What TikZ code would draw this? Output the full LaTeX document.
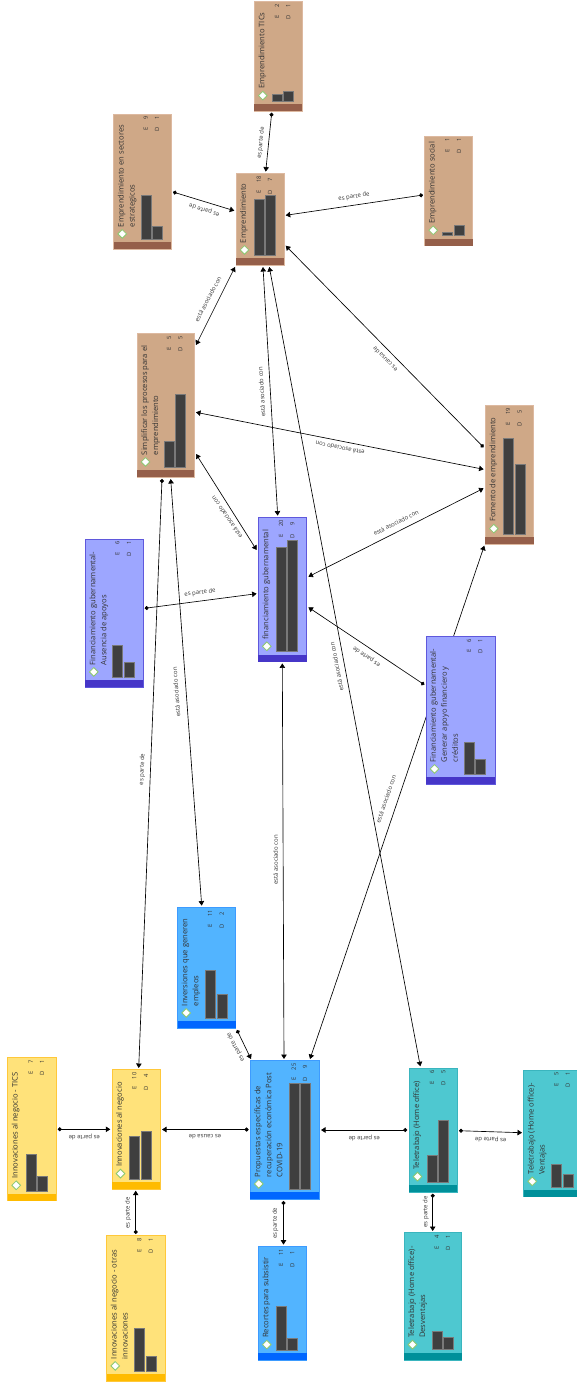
\documentclass[tikz,border=0pt]{standalone}
\usepackage{fontspec}
\setmainfont{Open Sans}
\usetikzlibrary{arrows.meta,shapes.geometric}
\pgfdeclarelayer{back}
\pgfsetlayers{back,main}
\definecolor{brF}{HTML}{CFA887}\definecolor{brB}{HTML}{955F4A}\definecolor{brL}{HTML}{DDB9A0}
\definecolor{liF}{HTML}{9DA6FF}\definecolor{liB}{HTML}{4636C8}\definecolor{liL}{HTML}{5F58DC}
\definecolor{blF}{HTML}{52B4FF}\definecolor{blB}{HTML}{0066FF}\definecolor{blL}{HTML}{3D9BFF}
\definecolor{yeF}{HTML}{FFE27A}\definecolor{yeB}{HTML}{FFBB00}\definecolor{yeL}{HTML}{FFC83A}
\definecolor{teF}{HTML}{4EC8D0}\definecolor{teB}{HTML}{00909A}\definecolor{teL}{HTML}{3AB5BE}
\definecolor{barC}{HTML}{3F3F3F}\definecolor{txtC}{HTML}{333333}\definecolor{dmdC}{HTML}{8CC870}
\tikzset{
  box/.style={rectangle,draw,line width=.7pt,inner sep=0pt,outer sep=1.7pt},
  ctitle/.style={rotate=90,anchor=north west,inner sep=0pt,align=left,text=txtC,font=\fontsize{7.6}{11}\selectfont},
  cstat/.style={rotate=90,anchor=east,inner sep=0pt,text=txtC,font=\fontsize{5.8}{7}\selectfont},
  dmd/.style={diamond,draw=dmdC,fill=white,line width=.8pt,inner sep=0pt,minimum width=9pt,minimum height=9pt},
  bar/.style={fill=barC,draw=barC!70!white,line width=.3pt},
  lnk/.style={black,line width=.65pt},
  dotarr/.style={lnk,{Circle[length=4pt]}-{Triangle[length=4.5pt,width=5.5pt]}},
  twoarr/.style={lnk,{Triangle[length=4.5pt,width=5.5pt]}-{Triangle[length=4.5pt,width=5.5pt]}},
  rel/.style={inner sep=0pt,text=txtC,font=\fontsize{6}{7}\selectfont},
}
% #1 id, #2 colour prefix, #3 x0, #4 y0, #5 x1, #6 y1, #7 title, #8 E, #9 D
\newcommand\concept[9]{%
  \def\curx{#3}\def\cury{#4}\def\curyy{#6}\def\curid{#1}\def\curE{#8}\def\curD{#9}%
  \pgfmathsetmacro\bw{#5-#3}\pgfmathsetmacro\bh{#6-#4}%
  \node[box,draw=#2L,fill=#2F,minimum width=\bw pt,minimum height=\bh pt] (#1) at ({(#3+#5)/2},{(#4+#6)/2}) {};
  \fill[#2B] (#3,#6-7) rectangle (#5,#6);
  \node[dmd] (#1-mark) at (#3+8.5,#6-15.4) {};
}
% #1 E bar left, #2 D bar left, #3 bottom, #4 E top, #5 D top, #6 text
\newcommand\conceptdata[6]{%
  \fill[bar] (#1,#4) rectangle (#1+10,#3);
  \fill[bar] (#2,#5) rectangle (#2+10,#3);
  \draw[bar] (#1,#4) rectangle (#1+10,#3);
  \draw[bar] (#2,#5) rectangle (#2+10,#3);
  \ifnum\curE>9 \def\numw{7pt}\else\def\numw{3.4pt}\fi
  \node[ctitle] (\curid-t) at (\curx+4,\curyy-22) {#6};
  \node[cstat] (\curid-e) at (#1+5,\cury+2.4) {E\hspace{7.2pt}\makebox[\numw][c]{\curE}};
  \node[cstat] (\curid-n) at (#2+5,\cury+2.4) {D\hspace{7.2pt}\makebox[\numw][c]{\curD}};
}
\begin{document}
\begin{tikzpicture}[x=1pt,y=-1pt]
\useasboundingbox (0,0) rectangle (577,1387);

\concept{tics}{br}{254.3}{1.7}{302}{111}{}{2}{1}
\conceptdata{272}{283.3}{101}{93.7}{90.7}{Emprendimiento TICs}
\concept{sect}{br}{113.7}{114}{171.3}{249.3}{}{9}{1}
\conceptdata{140.7}{152}{239}{195.3}{226}{Emprendimiento en sectores\\estrategicos}
\concept{empr}{br}{236}{173.3}{284}{265.3}{}{18}{7}
\conceptdata{253.7}{265}{255}{198.7}{195}{Emprendimiento}
\concept{soc}{br}{424.7}{136}{472.7}{245.7}{}{1}{1}
\conceptdata{442.3}{454}{235.3}{231.7}{224.7}{Emprendimiento social}
\concept{simp}{br}{137}{333.7}{194.3}{477.3}{}{5}{5}
\conceptdata{164}{175.3}{467}{441}{394}{Simplificar los procesos para el\\emprendimiento}
\concept{fom}{br}{485.3}{405.3}{533.7}{544}{}{19}{5}
\conceptdata{503}{514.7}{533.7}{438.3}{464}{Fomento de emprendimiento}
\concept{fin}{li}{258.3}{517.3}{306.7}{661.7}{}{20}{9}
\conceptdata{276}{287.3}{651}{546.7}{540}{financiamiento gubernamental}
\concept{aus}{li}{85.3}{539}{143}{687.3}{}{6}{1}
\conceptdata{112.3}{124}{677}{644.7}{662}{Financiamiento gubernamental-\\Ausencia de apoyos}
\concept{gen}{li}{426}{636.3}{495}{784.3}{}{6}{1}
\conceptdata{464}{475.3}{774.3}{742}{759.3}{Financiamiento gubernamental-\\Generar apoyo financiero y\\créditos}
\concept{inv}{bl}{177.7}{907.3}{235.7}{1028.3}{}{11}{2}
\conceptdata{205}{216.7}{1018}{970.3}{994}{Inversiones que generen\\empleos}
\concept{ticsb}{ye}{7.7}{1057.7}{56}{1200.7}{}{7}{1}
\conceptdata{25.7}{37}{1190.7}{1154}{1176}{Innovaciones al negocio - TICS}
\concept{inn}{ye}{112}{1069.7}{160.3}{1189}{}{10}{4}
\conceptdata{129.3}{141}{1178.7}{1136.3}{1131.3}{Innovaciones al negocio}
\concept{otr}{ye}{106.7}{1235.7}{165}{1381.3}{}{8}{1}
\conceptdata{134.3}{145.7}{1371}{1328.3}{1356}{Innovaciones al negocio - otras\\innovaciones}
\concept{prop}{bl}{250.3}{1060.7}{319.3}{1199.3}{}{25}{9}
\conceptdata{288.7}{300}{1189}{1083}{1083}{Propuestas específicas de\\recuperación económica Post\\COVID-19}
\concept{rec}{bl}{258.3}{1246.3}{306.7}{1360}{}{11}{1}
\conceptdata{276}{287.3}{1349.7}{1305.7}{1338.3}{Recortes para subsistir}
\concept{tel}{te}{409}{1068}{457.3}{1192}{}{6}{5}
\conceptdata{427}{438.3}{1181.7}{1154.7}{1120}{Teletrabajo (Home office)}
\concept{ven}{te}{523.7}{1070}{577}{1196.7}{}{5}{1}
\conceptdata{551.3}{562.7}{1186.7}{1163.7}{1173.7}{Teletrabajo (Home office)-\\Ventajas}
\concept{des}{te}{404}{1232.7}{461.7}{1360}{}{4}{1}
\conceptdata{431.7}{443}{1349.3}{1331}{1336.7}{Teletrabajo (Home office)-\\Desventajas}

\begin{pgfonlayer}{back}
\draw[dotarr] (tics.south -| 271.7,0) -- (empr.north -| 265.7,0);
\draw[dotarr] (sect.east |- 0,192) -- (empr.west |- 0,210.7);
\draw[dotarr] (soc.west |- 0,195) -- (empr.east |- 0,215.3);
\draw[twoarr] (empr.south -| 235,0) -- (simp.east |- 0,345);
\draw[dotarr] (fom.west |- 0,447.3) -- (empr.east |- 0,245.7);
\draw[twoarr] (simp.east |- 0,412.3) -- (fom.west |- 0,469.3);
\draw[twoarr] (empr.south -| 263,0) -- (fin.north -| 277.7,0);
\draw[twoarr] (empr.south -| 269.3,0) -- (tel.north -| 420.3,0);
\draw[twoarr] (simp.east |- 0,454) -- (fin.west |- 0,550);
\draw[twoarr] (fom.west |- 0,488.3) -- (fin.east |- 0,576.7);
\draw[dotarr] (aus.east |- 0,608.3) -- (fin.west |- 0,593.7);
\draw[dotarr] (gen.west |- 0,684.7) -- (fin.east |- 0,607.3);
\draw[twoarr] (fom.south -| 484.3,0) -- (prop.north -| 310,0);
\draw[twoarr] (simp.south -| 170.7,0) -- (inv.north -| 201.7,0);
\draw[dotarr] (simp.south -| 162,0) -- (inn.north -| 138.7,0);
\draw[twoarr] (fin.south -| 282.3,0) -- (prop.north -| 284,0);
\draw[dotarr] (inv.south -| 237,0) -- (prop.north -| 251,0);
\draw[dotarr] (ticsb.east |- 0,1129.3) -- (inn.west |- 0,1129.3);
\draw[dotarr] (prop.west |- 0,1129.5) -- (inn.east |- 0,1129.5);
\draw[dotarr] (tel.west |- 0,1130) -- (prop.east |- 0,1130);
\draw[dotarr] (tel.east |- 0,1130.7) -- (ven.west |- 0,1132.7);
\draw[dotarr] (otr.north -| 135.7,0) -- (inn.south -| 135.7,0);
\draw[dotarr] (prop.south -| 283.5,0) -- (rec.north -| 283.5,0);
\draw[dotarr] (tel.south -| 432.7,0) -- (des.north -| 432.7,0);
\end{pgfonlayer}

\node[rel,rotate=84] (l1) at (261,143) {es parte de};
\node[rel,rotate=163] (l2) at (204.3,210) {es parte de};
\node[rel,rotate=8.6] (l3) at (354,196.7) {es parte de};
\node[rel,rotate=62] (l4) at (208,299) {está asociado con};
\node[rel,rotate=134.4] (l5) at (385,359.3) {es causa de};
\node[rel,rotate=168.8] (l6) at (340,448.3) {está asociado con};
\node[rel,rotate=93.4] (l7) at (261.7,391.7) {está asociado con};
\node[rel,rotate=100.7] (l8) at (336.7,666.7) {está asociado con};
\node[rel,rotate=124] (l9) at (226.7,517.3) {está asociado con};
\node[rel,rotate=26.7] (l10) at (396,522.7) {está asociado con};
\node[rel,rotate=7.6] (l11) at (200,592.7) {es parte de};
\node[rel,rotate=145.7] (l12) at (366.7,656.7) {es parte de};
\node[rel,rotate=71] (l13) at (386,799) {está asociado con};
\node[rel,rotate=94.2] (l14) at (176.3,692.3) {está asociado con};
\node[rel,rotate=87.7] (l15) at (142.3,769.3) {es parte de};
\node[rel,rotate=90] (l16) at (275.5,860) {está asociado con};
\node[rel,rotate=118] (l17) at (235.7,1047.3) {es parte de};
\node[rel,rotate=180] (l18) at (84.3,1136.7) {es parte de};
\node[rel,rotate=180] (l19) at (205,1137) {es causa de};
\node[rel,rotate=180] (l20) at (364.3,1137.7) {es parte de};
\node[rel,rotate=178] (l21) at (490.7,1139.3) {es parte de};
\node[rel,rotate=90] (l22) at (128,1212.7) {es parte de};
\node[rel,rotate=90] (l23) at (275.3,1223.3) {es parte de};
\node[rel,rotate=90] (l24) at (425.7,1211.7) {es parte de};
\end{tikzpicture}
\end{document}
